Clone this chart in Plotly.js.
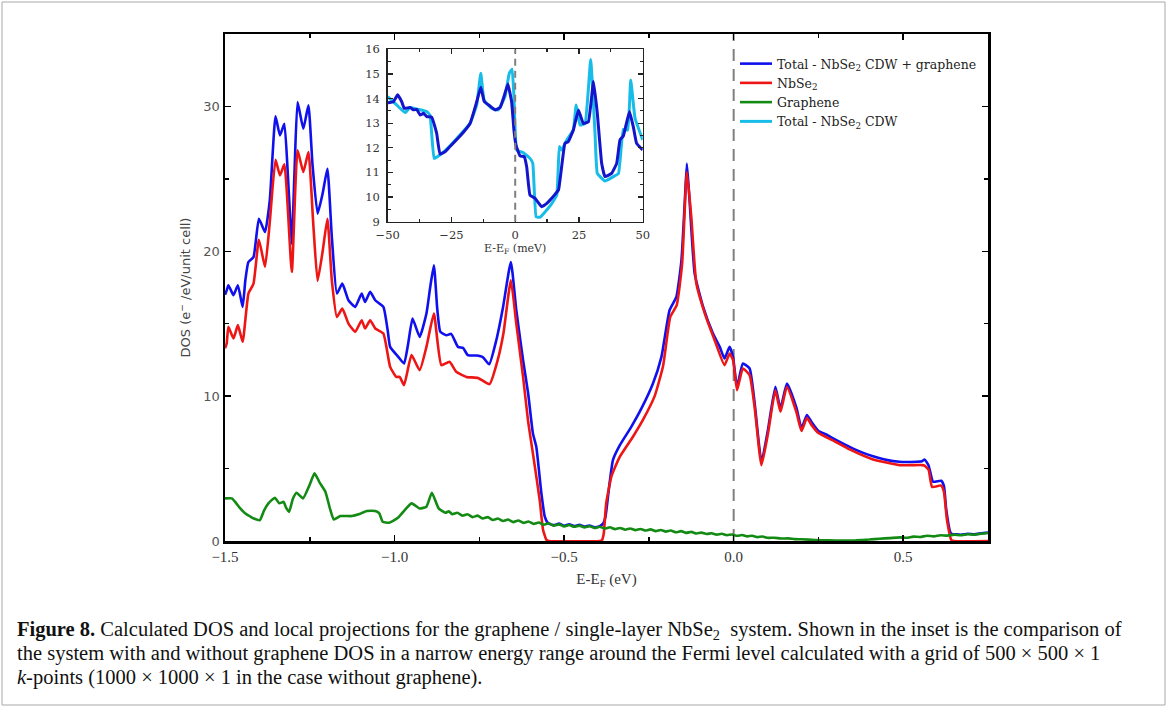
<!DOCTYPE html>
<html>
<head>
<meta charset="utf-8">
<script src="https://cdn.plot.ly/plotly-3.0.1.min.js"></script>
<style>
html,body{margin:0;padding:0;background:#fff;}
#chart{width:1168px;height:708px;}
</style>
</head>
<body>
<div id="chart"></div>
<script>
// ---------- Main panel data (E - E_F in eV, DOS in e-/eV/unit cell) ----------
const totalE = [-1.500,-1.495,-1.490,-1.475,-1.462,-1.448,-1.440,-1.431,-1.416,-1.400,-1.382,-1.368,-1.351,-1.338,-1.325,-1.314,-1.303,-1.295,-1.286,-1.269,-1.254,-1.242,-1.227,-1.212,-1.198,-1.185,-1.170,-1.154,-1.136,-1.116,-1.097,-1.087,-1.072,-1.057,-1.033,-1.020,-1.013,-0.989,-0.972,-0.960,-0.947,-0.926,-0.906,-0.895,-0.884,-0.874,-0.865,-0.847,-0.833,-0.813,-0.798,-0.784,-0.759,-0.740,-0.721,-0.700,-0.680,-0.657,-0.641,-0.621,-0.606,-0.592,-0.582,-0.567,-0.557,-0.547,-0.530,-0.515,-0.500,-0.485,-0.470,-0.455,-0.440,-0.425,-0.410,-0.395,-0.385,-0.378,-0.366,-0.356,-0.336,-0.302,-0.272,-0.238,-0.213,-0.189,-0.169,-0.154,-0.144,-0.138,-0.130,-0.115,-0.090,-0.061,-0.041,-0.027,-0.012,-0.002,0.010,0.027,0.047,0.062,0.082,0.101,0.123,0.138,0.157,0.185,0.200,0.216,0.230,0.250,0.273,0.300,0.342,0.380,0.411,0.450,0.489,0.539,0.555,0.563,0.575,0.588,0.612,0.620,0.627,0.639,0.645,0.650,0.670,0.690,0.710,0.730,0.750];
const totalDOS = [17.0,17.3,17.66,16.97,17.66,16.16,18.0,19.26,19.6,22.25,21.33,23.5,29.31,28.0,28.8,25.0,20.53,25.5,30.3,28.46,30.07,26.0,22.6,24.0,25.7,21.0,17.08,17.77,16.62,16.16,17.08,16.5,17.2,16.62,16.16,14.5,13.4,12.71,12.25,13.6,15.36,14.09,15.7,17.5,19.03,16.0,14.44,14.2,14.3,13.4,13.33,12.83,12.8,12.7,12.2,13.86,16.16,19.26,15.93,12.48,10.18,7.43,6.5,3.29,1.68,1.22,1.1,1.2,1.05,1.15,1.03,1.11,0.99,1.07,0.95,1.03,1.2,1.68,3.98,5.59,6.6,7.88,9.15,10.87,12.71,15.93,16.85,19.38,23.5,26.05,23.5,18.46,16.16,14.32,13.4,12.6,13.4,12.71,10.64,12.25,11.91,9.5,5.47,7.66,10.64,9.15,10.87,9.2,7.8,8.7,8.2,7.6,7.35,7.0,6.5,6.1,5.85,5.6,5.47,5.47,5.5,5.63,5.2,4.09,4.16,3.8,2.14,0.6,0.47,0.47,0.43,0.5,0.46,0.53,0.58];

const nbse2E = [-1.500,-1.495,-1.490,-1.475,-1.462,-1.448,-1.431,-1.416,-1.400,-1.382,-1.368,-1.351,-1.338,-1.325,-1.303,-1.286,-1.269,-1.254,-1.240,-1.227,-1.212,-1.198,-1.185,-1.170,-1.154,-1.136,-1.116,-1.097,-1.087,-1.072,-1.057,-1.033,-1.013,-0.995,-0.985,-0.972,-0.950,-0.926,-0.906,-0.884,-0.862,-0.838,-0.818,-0.788,-0.754,-0.720,-0.696,-0.679,-0.657,-0.641,-0.621,-0.606,-0.592,-0.572,-0.562,-0.552,-0.545,-0.395,-0.388,-0.383,-0.376,-0.360,-0.336,-0.297,-0.268,-0.233,-0.208,-0.187,-0.168,-0.152,-0.138,-0.125,-0.110,-0.085,-0.056,-0.027,-0.012,-0.002,0.010,0.027,0.047,0.062,0.082,0.101,0.123,0.138,0.157,0.185,0.200,0.216,0.230,0.250,0.300,0.342,0.411,0.489,0.555,0.563,0.575,0.585,0.612,0.620,0.629,0.642,0.650,0.750];
const nbse2DOS = [13.3,13.63,14.78,13.98,14.9,13.75,17.08,17.77,20.8,18.92,22.0,26.32,25.24,26.0,18.57,26.97,25.47,26.85,22.0,17.95,20.0,22.25,18.0,15.47,16.05,15.01,14.44,15.24,14.67,15.24,14.67,14.32,12.02,11.33,11.33,10.76,12.83,11.79,13.4,15.7,12.14,12.37,11.68,11.33,11.26,10.83,12.48,14.32,18.0,15.01,11.33,8.23,6.05,2.83,0.76,0.07,0,0,0.07,0.53,2.6,4.5,5.81,7.2,8.34,10.0,12.1,15.47,16.28,19.15,25.47,22.37,17.77,15.7,13.86,12.14,12.94,12.5,10.41,11.91,11.45,9.2,5.24,7.4,10.41,8.92,10.64,8.9,7.6,8.5,8.0,7.45,6.85,6.32,5.63,5.24,5.24,5.2,4.9,3.74,3.83,3.4,1.45,0.07,0,0];

const grapheneE = [-1.500,-1.480,-1.470,-1.455,-1.440,-1.426,-1.415,-1.397,-1.385,-1.372,-1.353,-1.340,-1.327,-1.320,-1.311,-1.300,-1.289,-1.270,-1.250,-1.236,-1.220,-1.204,-1.190,-1.179,-1.160,-1.126,-1.106,-1.082,-1.057,-1.045,-1.035,-1.016,-0.990,-0.950,-0.926,-0.906,-0.890,-0.870,-0.850,-0.840,-0.830,-0.815,-0.800,-0.785,-0.770,-0.755,-0.740,-0.725,-0.710,-0.695,-0.680,-0.665,-0.650,-0.635,-0.620,-0.605,-0.590,-0.575,-0.560,-0.545,-0.530,-0.515,-0.500,-0.485,-0.470,-0.455,-0.440,-0.425,-0.410,-0.395,-0.380,-0.365,-0.350,-0.335,-0.320,-0.305,-0.290,-0.275,-0.260,-0.245,-0.230,-0.215,-0.200,-0.185,-0.170,-0.155,-0.140,-0.125,-0.110,-0.095,-0.080,-0.065,-0.050,-0.035,-0.020,-0.005,0.010,0.025,0.040,0.055,0.070,0.085,0.100,0.120,0.140,0.160,0.180,0.200,0.240,0.280,0.320,0.360,0.400,0.430,0.460,0.490,0.510,0.530,0.550,0.570,0.590,0.610,0.630,0.650,0.670,0.690,0.710,0.730,0.750];
const grapheneDOS = [2.94,2.94,2.7,2.25,1.9,1.7,1.55,1.45,2.1,2.6,2.99,2.6,2.7,2.3,2.02,2.9,3.33,2.94,3.9,4.67,4.0,3.4,2.2,1.49,1.72,1.72,1.84,2.07,2.07,1.91,1.33,1.26,1.6,2.6,2.25,2.37,3.33,2.25,1.95,2.05,1.85,1.95,1.75,1.85,1.65,1.75,1.55,1.65,1.45,1.55,1.38,1.48,1.3,1.42,1.25,1.35,1.18,1.28,1.12,1.22,1.05,1.15,1.0,1.1,0.98,1.06,0.94,1.02,0.9,0.98,0.86,0.95,0.82,0.9,0.78,0.86,0.75,0.83,0.72,0.8,0.68,0.76,0.65,0.72,0.6,0.68,0.56,0.63,0.52,0.58,0.48,0.54,0.44,0.5,0.4,0.45,0.36,0.41,0.32,0.36,0.27,0.31,0.22,0.22,0.17,0.18,0.13,0.12,0.07,0.04,0.03,0.05,0.1,0.16,0.2,0.25,0.22,0.3,0.28,0.36,0.32,0.4,0.37,0.44,0.4,0.47,0.43,0.5,0.55];

// ---------- Inset data (E - E_F in meV) ----------
const insetTotalE = [-50,-47.8,-46.1,-44.5,-43.5,-41.2,-39.9,-38.6,-37.3,-36.0,-34.7,-32.7,-30.8,-29.5,-27.5,-25.6,-21.6,-17.7,-15.1,-13.5,-12.1,-9.9,-7.9,-5.9,-4.4,-2.9,-1.4,-0.5,0.3,1.9,3.5,4.5,5.8,7.8,10.4,12.4,14.3,15.6,17.0,19.5,20.8,22.8,24.8,26.7,28.7,30.7,32.2,33.9,35.2,37.8,39.8,41.1,42.4,44.8,46.3,47.6,50];
const insetTotal = [13.83,13.87,14.15,13.87,13.6,13.64,13.54,13.56,13.33,13.4,13.27,13.24,12.59,11.75,11.84,12.05,12.48,12.99,13.87,14.46,13.87,13.7,13.54,13.64,14.08,14.59,13.87,12.72,12.11,11.67,11.64,11.23,10.08,9.95,9.61,9.74,9.95,10.11,10.29,12.18,12.25,12.72,13.54,12.99,13.06,14.69,13.4,11.37,10.83,10.96,11.37,12.32,12.48,13.47,12.86,12.18,11.91];

const insetCdwE = [-50,-46.5,-43.2,-41.2,-38.0,-34.7,-33.4,-31.8,-29.5,-25.6,-17.7,-15.1,-13.5,-12.2,-9.2,-6.6,-4.0,-2.3,-1.2,-0.5,0.6,3.2,5.8,6.9,8.2,9.7,13.7,16.3,17.3,18.2,20.2,22.8,23.9,25.4,27.4,29.6,31.3,32.2,35.2,38.5,40.5,42.4,44.1,45.3,47.0,50];
const insetCdw = [14.08,13.74,13.43,13.64,13.56,13.47,13.33,11.57,11.71,12.07,13.0,13.74,15.03,13.94,13.6,13.54,14.08,15.03,15.19,14.08,11.91,11.8,11.57,11.37,9.2,9.18,9.64,10.08,12.05,11.91,12.32,12.72,13.74,12.93,12.99,15.59,12.59,10.96,10.65,10.83,10.96,12.75,12.72,14.75,13.2,12.32];

// ---------- Labels ----------
const seriesNames = ['Total - NbSe<sub>2</sub> CDW + graphene','NbSe<sub>2</sub>','Graphene','Total - NbSe<sub>2</sub> CDW'];
const captionLines = [
  '<b>Figure 8.</b> Calculated DOS and local projections for the graphene / single-layer NbSe<sub>2</sub>  system. Shown in the inset is the comparison of',
  'the system with and without graphene DOS in a narrow energy range around the Fermi level calculated with a grid of 500 × 500 × 1',
  '<i>k</i>-points (1000 × 1000 × 1 in the case without graphene).'
];

// ---------- Geometry (pixels) ----------
const W = 1168, H = 708;
const mL = 225, mR = 180, mT = 34, mB = 167;
const pw = W - mL - mR, ph = H - mT - mB;
const px2x = p => (p - mL) / pw;
const px2y = p => (H - mB - p) / ph;

const cBlue = '#1010ee', cBlueIn = '#1414cc', cRed = '#ee1515', cGreen = '#138a13', cCyan = '#18bce8';
const smooth = 0.45;

const traces = [
  {x: totalE, y: totalDOS, type: 'scatter', mode: 'lines', name: seriesNames[0], line: {color: cBlue, width: 2.6, shape: 'spline', smoothing: smooth}, legendrank: 1, xaxis: 'x', yaxis: 'y'},
  {x: nbse2E, y: nbse2DOS, type: 'scatter', mode: 'lines', name: seriesNames[1], line: {color: cRed, width: 2.6, shape: 'spline', smoothing: smooth}, legendrank: 2, xaxis: 'x', yaxis: 'y'},
  {x: grapheneE, y: grapheneDOS, type: 'scatter', mode: 'lines', name: seriesNames[2], line: {color: cGreen, width: 2.6, shape: 'spline', smoothing: smooth}, legendrank: 3, xaxis: 'x', yaxis: 'y'},
  {x: insetCdwE, y: insetCdw, type: 'scatter', mode: 'lines', name: seriesNames[3], line: {color: cCyan, width: 3, shape: 'spline', smoothing: 0.3}, legendrank: 4, xaxis: 'x2', yaxis: 'y2'},
  {x: insetTotalE, y: insetTotal, type: 'scatter', mode: 'lines', name: seriesNames[0], showlegend: false, line: {color: cBlueIn, width: 3, shape: 'spline', smoothing: 0.3}, xaxis: 'x2', yaxis: 'y2'}
];

const serifMain = 'Liberation Serif, serif';
const serifInset = 'DejaVu Serif, serif';

const layout = {
  width: W, height: H,
  margin: {l: mL, r: mR, t: mT, b: mB, pad: 0},
  paper_bgcolor: '#ffffff', plot_bgcolor: '#ffffff',
  showlegend: true,
  hovermode: false,
  legend: {
    x: px2x(735), y: px2y(49), xanchor: 'left', yanchor: 'top',
    bgcolor: 'rgba(0,0,0,0)', borderwidth: 0,
    font: {family: serifInset, size: 12.5, color: '#222'},
    tracegroupgap: 0, itemwidth: 32
  },
  xaxis: {
    domain: [0, 1], range: [-1.5, 0.75], anchor: 'y',
    showline: true, linecolor: '#000', linewidth: 2.5, mirror: 'ticks',
    ticks: 'inside', ticklen: 6, tickwidth: 1.5, tickcolor: '#000',
    dtick: 0.5, tick0: -1.5, tickformat: '.1f',
    minor: {dtick: 0.25, ticks: 'inside', ticklen: 4, tickwidth: 1.5, tickcolor: '#000', showgrid: false},
    showgrid: false, zeroline: false,
    tickfont: {family: serifMain, size: 15, color: '#333'},
    title: {text: 'E-E<sub>F</sub> (eV)', font: {family: serifMain, size: 15, color: '#333'}, standoff: 10}
  },
  yaxis: {
    domain: [0, 1], range: [0, 35], anchor: 'x',
    showline: true, linecolor: '#000', linewidth: 2.5, mirror: 'ticks',
    ticks: 'inside', ticklen: 6, tickwidth: 1.5, tickcolor: '#000',
    dtick: 10, tick0: 0,
    minor: {dtick: 5, ticks: 'inside', ticklen: 4, tickwidth: 1.5, tickcolor: '#000', showgrid: false},
    showgrid: false, zeroline: false,
    tickfont: {family: 'DejaVu Sans, sans-serif', size: 13, color: '#555'},
    title: {text: 'DOS (e<sup>−</sup> /eV/unit cell)', font: {family: 'DejaVu Sans, sans-serif', size: 13, color: '#444'}, standoff: 10}
  },
  xaxis2: {
    domain: [px2x(387.7), px2x(642.7)], range: [-50, 50], anchor: 'y2',
    showline: true, linecolor: '#222', linewidth: 1.5, mirror: 'ticks',
    ticks: 'inside', ticklen: 5, tickwidth: 1.2, tickcolor: '#222',
    dtick: 25, tick0: -50, ticklabelstandoff: 2,
    minor: {dtick: 12.5, ticks: 'inside', ticklen: 3, tickwidth: 1.2, tickcolor: '#222', showgrid: false},
    showgrid: false, zeroline: false,
    tickfont: {family: serifInset, size: 11.5, color: '#333'},
    title: {text: 'E-E<sub>F</sub> (meV)', font: {family: serifInset, size: 11, color: '#333'}, standoff: 3}
  },
  yaxis2: {
    domain: [px2y(221.7), px2y(49.3)], range: [9, 16], anchor: 'x2',
    showline: true, linecolor: '#222', linewidth: 1.5, mirror: 'ticks',
    ticks: 'inside', ticklen: 5, tickwidth: 1.2, tickcolor: '#222',
    dtick: 1, tick0: 9, ticklabelstandoff: 4,
    minor: {dtick: 0.5, ticks: 'inside', ticklen: 3, tickwidth: 1.2, tickcolor: '#222', showgrid: false},
    showgrid: false, zeroline: false,
    tickfont: {family: serifInset, size: 11.5, color: '#333'}
  },
  shapes: [
    {type: 'line', xref: 'x', yref: 'y', x0: 0, x1: 0, y0: 0, y1: 35, layer: 'below',
     line: {color: '#7f7f7f', width: 2, dash: '12px,8px'}},
    {type: 'line', xref: 'x2', yref: 'y2', x0: 0, x1: 0, y0: 9, y1: 16, layer: 'above',
     line: {color: '#7f7f7f', width: 2, dash: '7px,5px'}},
    {type: 'rect', xref: 'paper', yref: 'paper', x0: px2x(2), x1: px2x(1165), y0: px2y(705), y1: px2y(2), layer: 'below',
     line: {color: '#a8a8a8', width: 1}, fillcolor: 'rgba(0,0,0,0)'}
  ],
  annotations: captionLines.map((t, i) => ({
    text: t, xref: 'paper', yref: 'paper', x: px2x(15), y: px2y(630 + 23.5 * i),
    xanchor: 'left', yanchor: 'middle', showarrow: false, align: 'left',
    font: {family: serifMain, size: 20.5, color: '#111'}
  }))
};

Plotly.newPlot('chart', traces, layout, {displayModeBar: false, staticPlot: true});
</script>
</body>
</html>
